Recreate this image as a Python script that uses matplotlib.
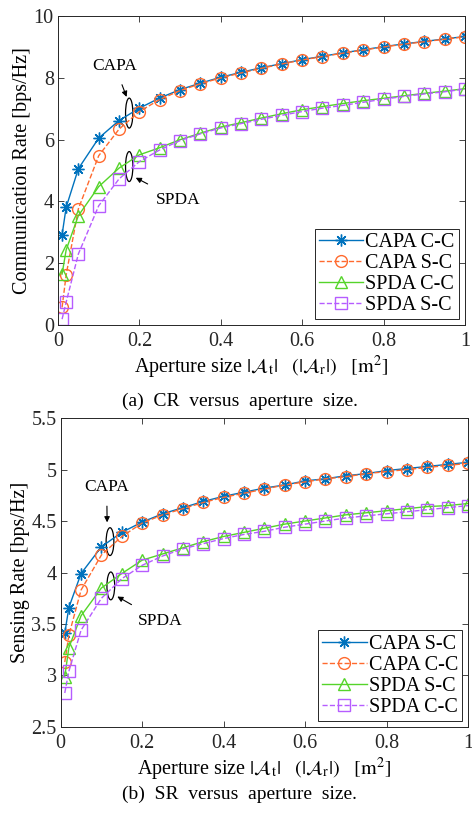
import matplotlib
matplotlib.use('Agg')
import matplotlib.pyplot as plt
from matplotlib.patches import Ellipse

plt.rcParams['font.family'] = ['Liberation Serif', 'DejaVu Serif']
plt.rcParams['mathtext.fontset'] = 'stix'

# Aperture sizes (m^2)
aperture = [0.01, 0.02, 0.05, 0.1, 0.15, 0.2, 0.25, 0.3, 0.35, 0.4, 0.45, 0.5,
            0.55, 0.6, 0.65, 0.7, 0.75, 0.8, 0.85, 0.9, 0.95, 1.0]

# (a) Communication rate [bps/Hz]
cr_capa_cc = [2.92, 3.81, 5.06, 6.05, 6.62, 7.02, 7.35, 7.62, 7.83, 8.02, 8.18, 8.33,
              8.46, 8.59, 8.70, 8.81, 8.91, 9.01, 9.10, 9.18, 9.26, 9.34]
cr_capa_sc = [0.57, 1.62, 3.76, 5.48, 6.34, 6.91, 7.30, 7.59, 7.81, 8.00, 8.16, 8.31,
              8.45, 8.58, 8.69, 8.80, 8.90, 9.00, 9.09, 9.17, 9.25, 9.33]
cr_spda_cc = [1.65, 2.43, 3.54, 4.48, 5.08, 5.51, 5.74, 6.00, 6.21, 6.41, 6.55, 6.70,
              6.84, 6.97, 7.07, 7.17, 7.26, 7.34, 7.42, 7.50, 7.57, 7.65]
cr_spda_sc = [0.19, 0.74, 2.30, 3.86, 4.73, 5.29, 5.67, 5.97, 6.19, 6.38, 6.52, 6.66,
              6.79, 6.91, 7.02, 7.11, 7.21, 7.31, 7.40, 7.48, 7.55, 7.64]
cr_labels = ['CAPA C-C', 'CAPA S-C', 'SPDA C-C', 'SPDA S-C']

# (b) Sensing rate [bps/Hz]
sr_capa_sc = [3.41, 3.66, 3.99, 4.25, 4.39, 4.49, 4.57, 4.63, 4.69, 4.74, 4.78, 4.82,
              4.85, 4.89, 4.91, 4.94, 4.96, 4.99, 5.01, 5.03, 5.05, 5.07]
sr_capa_cc = [3.13, 3.39, 3.83, 4.17, 4.35, 4.48, 4.56, 4.62, 4.68, 4.73, 4.77, 4.81,
              4.85, 4.88, 4.91, 4.93, 4.96, 4.98, 5.00, 5.02, 5.04, 5.06]
sr_spda_sc = [2.99, 3.27, 3.58, 3.85, 3.99, 4.12, 4.18, 4.24, 4.30, 4.35, 4.39, 4.43,
              4.47, 4.50, 4.53, 4.56, 4.58, 4.60, 4.62, 4.64, 4.65, 4.67]
sr_spda_cc = [2.83, 3.04, 3.44, 3.75, 3.94, 4.07, 4.16, 4.23, 4.28, 4.33, 4.37, 4.40,
              4.44, 4.47, 4.50, 4.53, 4.55, 4.57, 4.59, 4.61, 4.63, 4.65]
sr_labels = ['CAPA S-C', 'CAPA C-C', 'SPDA S-C', 'SPDA C-C']

colors = ['#0072BD', '#FF6A2E', '#55D42A', '#B65CFF']
markers = [(8, 2, 0), 'o', '^', 's']
styles = ['-', '--', '-', '--']

fs = 14.5
fig = plt.figure(figsize=(4.72, 8.13), dpi=100)
ax1 = fig.add_axes([0.1229, 0.6002, 0.862, 0.380])
ax2 = fig.add_axes([0.1286, 0.1058, 0.863, 0.380])


def draw(ax, series, labels):
    for y, lab, c, m, ls in zip(series, labels, colors, markers, styles):
        ax.plot(aperture, y, linestyle=ls, color=c, marker=m, markersize=8.5,
                markerfacecolor='none', markeredgecolor=c, markeredgewidth=1.0,
                linewidth=1.0, label=lab)
    ax.set_xlim(0, 1)
    ax.set_xticks([0, 0.2, 0.4, 0.6, 0.8, 1])
    ax.set_xticklabels(['0', '0.2', '0.4', '0.6', '0.8', '1'])
    ax.tick_params(direction='in', top=True, right=True, labelsize=fs,
                   colors='#262626', length=4, width=0.6)
    ax.tick_params(axis='x', pad=5)
    ax.tick_params(axis='y', pad=3)
    for s in ax.spines.values():
        s.set_color('#262626')
        s.set_linewidth(0.7)
    ax.set_xlabel(r'Aperture size $|\mathcal{A}_\mathrm{t}|\ \ \ (|\mathcal{A}_\mathrm{r}|)\ \ \ [\mathrm{m}^2]$',
                  fontsize=fs, labelpad=2)
    leg = ax.legend(loc='lower right', fontsize=fs, handlelength=2.2,
                    handletextpad=0.1, labelspacing=0.1, borderpad=0.2,
                    borderaxespad=0.3, fancybox=False, framealpha=1)
    leg.get_frame().set_edgecolor('#262626')
    leg.get_frame().set_linewidth(0.7)


draw(ax1, [cr_capa_cc, cr_capa_sc, cr_spda_cc, cr_spda_sc], cr_labels)
ax1.set_ylim(0, 10)
ax1.set_yticks([0, 2, 4, 6, 8, 10])
ax1.set_ylabel('Communication Rate [bps/Hz]', fontsize=fs, labelpad=1)
ax1.add_patch(Ellipse((0.175, 6.86), 0.018, 0.97, fill=False, lw=0.9, color='k'))
ax1.add_patch(Ellipse((0.175, 5.13), 0.018, 0.97, fill=False, lw=0.9, color='k'))
ax1.annotate('CAPA', xy=(0.171, 7.3), xytext=(0.14, 8.38), ha='center', va='center',
             fontsize=12.5, arrowprops=dict(arrowstyle='-|>', color='k', lw=0.8,
                                            mutation_scale=8, shrinkA=6))
ax1.annotate('SPDA', xy=(0.185, 4.81), xytext=(0.295, 4.05), ha='center', va='center',
             fontsize=12.5, arrowprops=dict(arrowstyle='-|>', color='k', lw=0.8,
                                            mutation_scale=8, shrinkA=8))

draw(ax2, [sr_capa_sc, sr_capa_cc, sr_spda_sc, sr_spda_cc], sr_labels)
ax2.set_ylim(2.5, 5.5)
ax2.set_yticks([2.5, 3, 3.5, 4, 4.5, 5, 5.5])
ax2.set_yticklabels(['2.5', '3', '3.5', '4', '4.5', '5', '5.5'])
ax2.set_ylabel('Sensing Rate [bps/Hz]', fontsize=fs, labelpad=1)
ax2.add_patch(Ellipse((0.121, 4.30), 0.019, 0.27, fill=False, lw=0.9, color='k'))
ax2.add_patch(Ellipse((0.123, 3.87), 0.019, 0.27, fill=False, lw=0.9, color='k'))
ax2.annotate('CAPA', xy=(0.114, 4.46), xytext=(0.113, 4.83), ha='center', va='center',
             fontsize=12.5, arrowprops=dict(arrowstyle='-|>', color='k', lw=0.8,
                                            mutation_scale=8, shrinkA=6))
ax2.annotate('SPDA', xy=(0.133, 3.78), xytext=(0.244, 3.53), ha='center', va='center',
             fontsize=12.5, arrowprops=dict(arrowstyle='-|>', color='k', lw=0.8,
                                            mutation_scale=8, shrinkA=8))

fig.text(0.508, 1 - 401 / 813, '(a)  CR  versus  aperture  size.', ha='center',
         va='center', fontsize=14)
fig.text(0.508, 1 - 794 / 813, '(b)  SR  versus  aperture  size.', ha='center',
         va='center', fontsize=14)

fig.savefig('out.png', dpi=100)
